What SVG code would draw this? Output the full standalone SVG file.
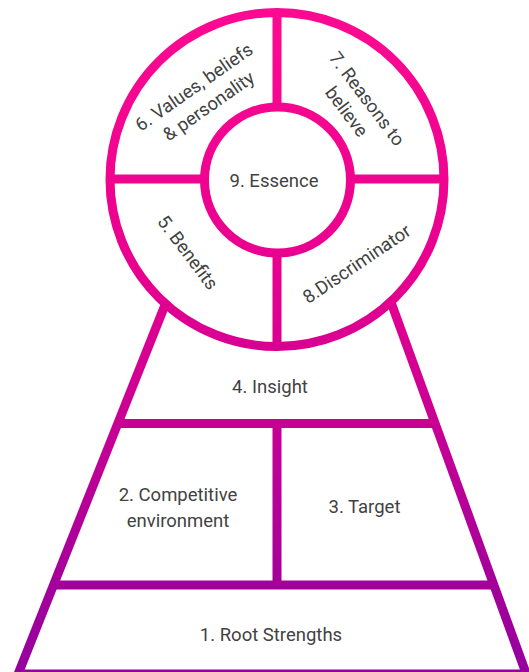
<svg xmlns="http://www.w3.org/2000/svg" width="529" height="672" viewBox="0 0 529 672">
  <defs>
    <linearGradient id="g" gradientUnits="userSpaceOnUse" x1="0" y1="0" x2="0" y2="672">
      <stop offset="0" stop-color="#fd0a91"/>
      <stop offset="0.4" stop-color="#e8008f"/>
      <stop offset="0.63" stop-color="#c80094"/>
      <stop offset="0.87" stop-color="#a4009a"/>
      <stop offset="1" stop-color="#96009e"/>
    </linearGradient>
  </defs>
  <style>
    .ln { fill: none; stroke: url(#g); stroke-width: 9; }
    .lb { font-family: Roboto, "Liberation Sans", sans-serif; font-size: 18.5px; fill: #424242; text-anchor: middle; }
  </style>
  <rect width="529" height="672" fill="#ffffff"/>
  <g id="frame">
    <circle class="ln" cx="277" cy="179.5" r="167"/>
    <circle class="ln" cx="277.5" cy="180" r="73"/>
    <line class="ln" x1="277" y1="12" x2="277" y2="107.5"/>
    <line class="ln" x1="277" y1="252.5" x2="277" y2="347"/>
    <line class="ln" x1="110" y1="179" x2="205" y2="179"/>
    <line class="ln" x1="350" y1="179" x2="444" y2="179"/>
    <line class="ln" x1="165.8" y1="303" x2="17.3" y2="676"/>
    <line class="ln" x1="390.9" y1="302" x2="527" y2="676"/>
    <line class="ln" x1="117.8" y1="423.5" x2="435.1" y2="423.5"/>
    <line class="ln" x1="53.6" y1="585" x2="493.9" y2="585"/>
    <line class="ln" x1="17.7" y1="674" x2="526.3" y2="674"/>
    <line class="ln" x1="277" y1="423.5" x2="277" y2="585"/>
  </g>
  <g id="node9">
    <text class="lb" x="274" y="187">9. Essence</text>
  </g>
  <g id="node6" transform="translate(204.5,102) rotate(-35)">
    <text class="lb" x="0" y="-12">6. Values, beliefs</text>
    <text class="lb" x="1" y="12">&amp; personality</text>
  </g>
  <g id="node7" transform="translate(352.4,109.8) rotate(53)">
    <text class="lb" x="0" y="-12">7. Reasons to</text>
    <text class="lb" x="-2" y="12">believe</text>
  </g>
  <g id="node5" transform="translate(182.8,256.4) rotate(53)">
    <text class="lb" x="0" y="0">5. Benefits</text>
  </g>
  <g id="node8" transform="translate(360.2,269.2) rotate(-34)">
    <text class="lb" x="0" y="0">8.Discriminator</text>
  </g>
  <g id="node4">
    <text class="lb" x="270" y="393">4. Insight</text>
  </g>
  <g id="node2">
    <text class="lb" x="178" y="501">2. Competitive</text>
    <text class="lb" x="178" y="527">environment</text>
  </g>
  <g id="node3">
    <text class="lb" x="364.5" y="513">3. Target</text>
  </g>
  <g id="node1">
    <text class="lb" x="271" y="641">1. Root Strengths</text>
  </g>
</svg>
